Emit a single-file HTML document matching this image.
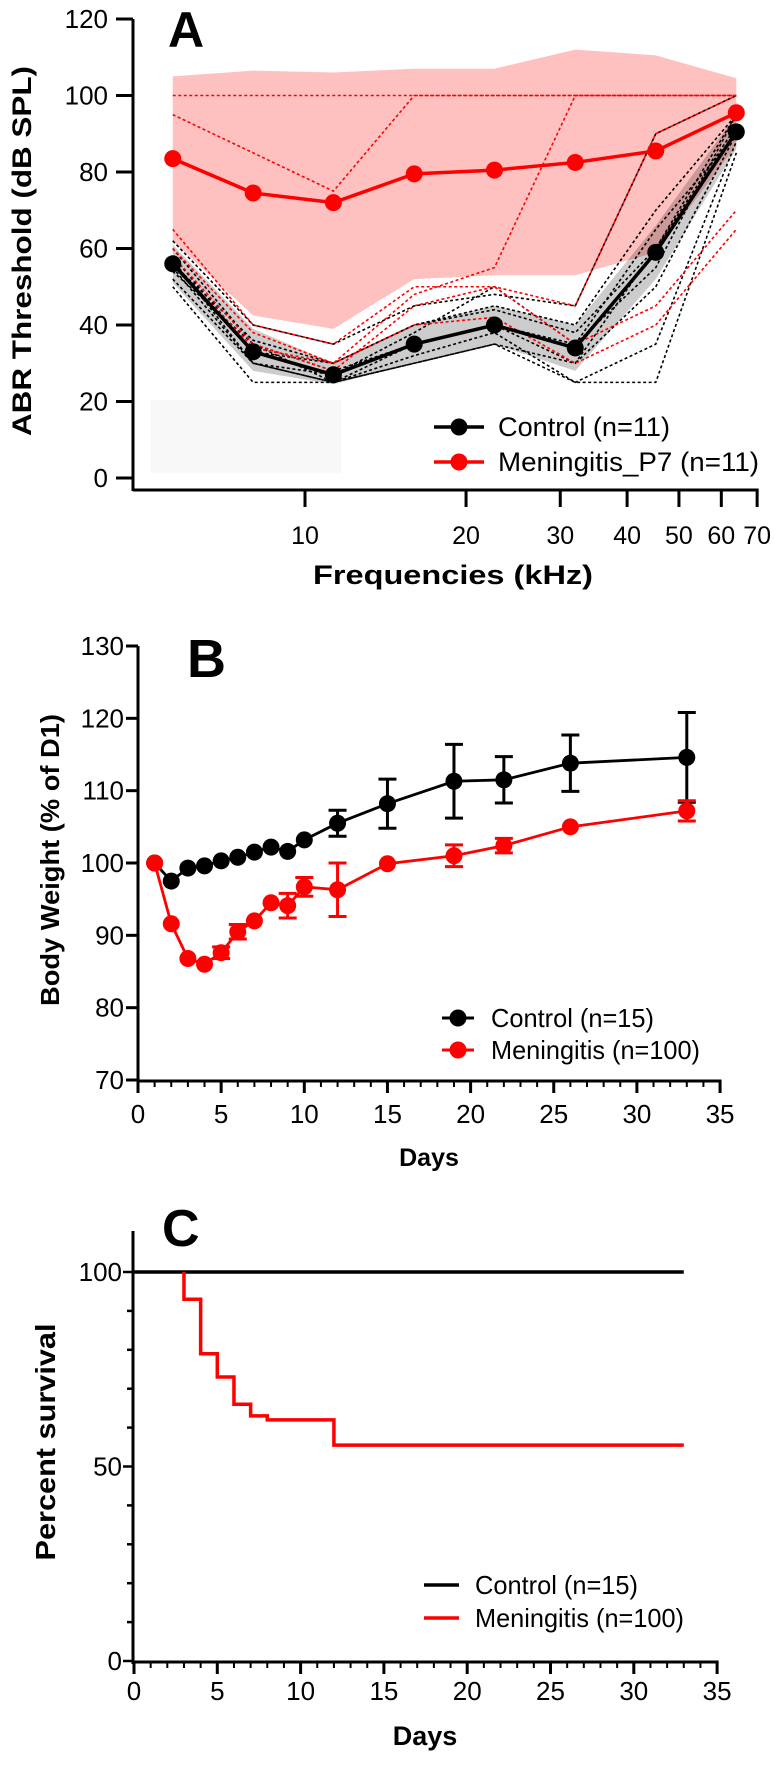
<!DOCTYPE html>
<html><head><meta charset="utf-8"><style>
html,body{margin:0;padding:0;background:#fff;}
svg{display:block;font-family:"Liberation Sans",Arial,sans-serif;}
</style></head><body>
<svg id="fig" width="774" height="1771" viewBox="0 0 774 1771"></svg>
<script>
// ---------- Panel A data ----------
const freqA = [5.66, 8, 11.3, 16, 22.6, 32, 45.25, 64];
const ctrlA = [56, 33, 27, 35, 40, 34, 59, 90.5];
const menA = [83.5, 74.5, 72, 79.5, 80.5, 82.5, 85.5, 95.5];
const menBandHi = [105, 106.5, 106, 107, 107, 112, 110.5, 104.5];
const menBandLo = [62, 42.5, 39, 52, 53, 53, 59, 87];
const ctrlBandHi = [61, 39, 30, 40, 45, 40, 66, 95];
const ctrlBandLo = [51, 28, 24.5, 30, 35, 28, 52, 86];
const menIndiv = [
 [100,100,100,100,100,100,100,100],
 [95,85,75,100,100,100,100,100],
 [65,40,35,50,50,45,90,100],
 [60,38,30,48,55,100,100,100],
 [58,35,28,45,50,35,45,70],
 [56,34,30,40,42,30,40,65]
];
const ctrlIndiv = [
 [60,35,25,30,35,30,60,95],[55,30,25,35,40,35,65,90],[50,25,25,30,35,25,25,85],
 [58,33,30,40,45,40,70,95],[54,35,28,35,40,30,50,90],[57,30,27,38,50,35,55,95],
 [52,30,25,32,38,25,35,88],[62,40,35,45,48,45,90,100],[56,36,30,40,44,38,60,92]
];
const yTicksA = [0,20,40,60,80,100,120];
const xTicksA = [10,20,30,40,50,60,70];
// ---------- Panel B data ----------
const daysCtrlB = [1,2,3,4,5,6,7,8,9,10,12,15,19,22,26,33];
const ctrlB = [100,97.5,99.3,99.6,100.3,100.8,101.5,102.2,101.6,103.2,105.5,108.2,111.3,111.5,113.8,114.6];
const ctrlErrB = [0,0.5,0.5,0.5,0.5,0.5,0.5,0.5,0.5,0.6,1.8,3.4,5.1,3.2,3.9,6.2];
const daysMenB = [1,2,3,4,5,6,7,8,9,10,12,15,19,22,26,33];
const menB = [100,91.6,86.8,86,87.6,90.5,92,94.5,94.1,96.7,96.3,99.9,101,102.4,105,107.2];
const menErrB = [0,0.5,0.5,0.5,0.8,1,0.5,0.6,1.7,1.3,3.7,0.4,1.5,1,0.4,1.4];
const yTicksB = [70,80,90,100,110,120,130];
const xTicksB = [0,5,10,15,20,25,30,35];
// ---------- Panel C data ----------
const ctrlDaysC = [0,33];
const ctrlSurvC = [100,100];
const menDaysC = [3,4,5,6,7,8,12,33];
const menSurvC = [93,79,73,66,63,62,55.5,55.5];
const yTicksC = [0,50,100];

const svg = document.getElementById('fig');
const NS = 'http://www.w3.org/2000/svg';
function mk(tag, attrs, parent){
  const e = document.createElementNS(NS, tag);
  for (const k in attrs) e.setAttribute(k, attrs[k]);
  (parent||svg).appendChild(e);
  return e;
}
function txt(x,y,s,attrs,parent){
  const t = mk('text', Object.assign({x:x,y:y}, attrs||{}), parent);
  t.textContent = s; return t;
}

// ================= Panel A =================
const gA = mk('g',{});


const x10=305, dec=535, axAL=133;
const xA = f => x10 + Math.log10(f/10)*dec;
const yA = v => 478 - v*(478-19)/120;
const axAR = xA(70);
const box = mk('rect',{x:151,y:400,width:190,height:73,fill:'#f8f8f8'},gA);


function bandPath(hi,lo){
  let d='';
  freqA.forEach((f,i)=>{d+=(i?'L':'M')+xA(f)+','+yA(hi[i]);});
  for(let i=freqA.length-1;i>=0;i--) d+='L'+xA(freqA[i])+','+yA(lo[i]);
  return d+'Z';
}
const mb = mk('path',{d:bandPath(menBandHi,menBandLo),fill:'#ffc0c0'},gA);


const cb = mk('path',{d:bandPath(ctrlBandHi,ctrlBandLo),fill:'#000','fill-opacity':0.2},gA);


function linePath(vals){return vals.map((v,i)=>(i?'L':'M')+xA(freqA[i])+','+yA(v)).join('');}
ctrlIndiv.forEach(s=>{
  const p=mk('path',{d:linePath(s),fill:'none',stroke:'#000','stroke-width':1.6,'stroke-dasharray':'3,2.5'},gA);
  
  
});
menIndiv.forEach(s=>{
  const p=mk('path',{d:linePath(s),fill:'none',stroke:'#f00','stroke-width':1.6,'stroke-dasharray':'3,2.5'},gA);
  
  
});
[[ctrlA,'#000','control'],[menA,'#f00','meningitis']].forEach(([vals,col,nm])=>{
  const p=mk('path',{d:linePath(vals),fill:'none',stroke:col,'stroke-width':3.5},gA);
  
  
  vals.forEach((v,i)=>{
    const c=mk('circle',{cx:xA(freqA[i]),cy:yA(v),r:8.5,fill:col},gA);
    
    
  });
});
mk('line',{x1:133,y1:yA(120),x2:133,y2:491,stroke:'#000','stroke-width':3},gA);
yTicksA.forEach(v=>{
  mk('line',{x1:116,y1:yA(v),x2:133,y2:yA(v),stroke:'#000','stroke-width':3},gA);
  const t=txt(108,yA(v)+9,String(v),{'font-size':26,'text-anchor':'end'},gA);
  
  
});
mk('line',{x1:axAL,y1:490,x2:axAR+1.5,y2:490,stroke:'#000','stroke-width':3},gA);
xTicksA.forEach(f=>{
  mk('line',{x1:xA(f),y1:490,x2:xA(f),y2:507,stroke:'#000','stroke-width':3},gA);
  const t=txt(xA(f),544,String(f),{'font-size':25,'text-anchor':'middle'},gA);
  
  
});
let t;
t=txt(453,584,'Frequencies (kHz)',{'font-size':27,'font-weight':'bold','text-anchor':'middle',textLength:280,lengthAdjust:'spacingAndGlyphs'},gA);
 
t=txt(0,0,'ABR Threshold (dB SPL)',{'font-size':27,'font-weight':'bold','text-anchor':'middle',textLength:370,lengthAdjust:'spacingAndGlyphs',transform:'translate(31,251) rotate(-90)'},gA);
 
t=txt(168,47,'A',{'font-size':50,'font-weight':'bold'},gA);
 
[['Control (n=11)','#000',427,172],['Meningitis_P7 (n=11)','#f00',462,261]].forEach(([s,c,y,w])=>{
  mk('line',{x1:434,y1:y,x2:484,y2:y,stroke:c,'stroke-width':3.5},gA);
  mk('circle',{cx:459,cy:y,r:8.5,fill:c},gA);
  const tt=txt(498,y+9,s,{'font-size':27,textLength:w,lengthAdjust:'spacingAndGlyphs'},gA);
   
});

// ================= Panel B =================
const gB = mk('g',{});


const xB = d => 138 + d*16.63;
const yB = v => 1080 - (v-70)*(1080-646)/60;
function series(days,vals,errs,col,nm){
  const d=days.map((x,i)=>(i?'L':'M')+xB(x)+','+yB(vals[i])).join('');
  const p=mk('path',{d:d,fill:'none',stroke:col,'stroke-width':2.8},gB);
  
  
  days.forEach((x,i)=>{
    if(errs[i]>0.6){
      const e=mk('path',{d:'M'+(xB(x)-9)+','+yB(vals[i]+errs[i])+'h18M'+xB(x)+','+yB(vals[i]+errs[i])+'V'+yB(vals[i]-errs[i])+'M'+(xB(x)-9)+','+yB(vals[i]-errs[i])+'h18',stroke:col,'stroke-width':3,fill:'none'},gB);
      
      
    }
    const c=mk('circle',{cx:xB(x),cy:yB(vals[i]),r:8.5,fill:col},gB);
    
    
  });
}
series(daysCtrlB,ctrlB,ctrlErrB,'#000','control');
series(daysMenB,menB,menErrB,'#f00','meningitis');
mk('line',{x1:138,y1:646,x2:138,y2:1082,stroke:'#000','stroke-width':3},gB);
yTicksB.forEach(v=>{
  mk('line',{x1:126,y1:yB(v),x2:138,y2:yB(v),stroke:'#000','stroke-width':3},gB);
  const tt=txt(124,yB(v)+9,String(v),{'font-size':26,'text-anchor':'end'},gB);
   
});
mk('line',{x1:138,y1:1081,x2:xB(35)+1.5,y2:1081,stroke:'#000','stroke-width':3},gB);
for(let d=0;d<=35;d++){
  mk('line',{x1:xB(d),y1:1081,x2:xB(d),y2:d%5?1087:1093,stroke:'#000','stroke-width':d%5?2:3},gB);
}
xTicksB.forEach(d=>{
  const tt=txt(xB(d),1123,String(d),{'font-size':26,'text-anchor':'middle'},gB);
   
});
t=txt(429,1166,'Days',{'font-size':25,'font-weight':'bold','text-anchor':'middle'},gB);
 
t=txt(0,0,'Body Weight (% of D1)',{'font-size':26,'font-weight':'bold','text-anchor':'middle',textLength:292,lengthAdjust:'spacingAndGlyphs',transform:'translate(59,860) rotate(-90)'},gB);
 
t=txt(187,677,'B',{'font-size':54,'font-weight':'bold'},gB);
 
[['Control (n=15)','#000',1018,163],['Meningitis (n=100)','#f00',1050,209]].forEach(([s,c,y,w])=>{
  mk('line',{x1:442,y1:y,x2:474,y2:y,stroke:c,'stroke-width':3},gB);
  mk('circle',{cx:458,cy:y,r:8.5,fill:c},gB);
  const tt=txt(491,y+9,s,{'font-size':26,textLength:w,lengthAdjust:'spacingAndGlyphs'},gB);
   
});

// ================= Panel C =================
const gC = mk('g',{});


const xC = d => 134 + d*16.66;
const yC = v => 1661 - v*(1661-1272)/100;
let dC='M'+xC(ctrlDaysC[0])+','+yC(ctrlSurvC[0])+'L'+xC(ctrlDaysC[1])+','+yC(ctrlSurvC[1]);
let cl=mk('path',{d:dC,stroke:'#000','stroke-width':3.5,fill:'none'},gC);


let dm='M'+xC(menDaysC[0])+','+yC(100);
let prev=100;
menDaysC.forEach((d,i)=>{
  dm+='L'+xC(d)+','+yC(prev)+'L'+xC(d)+','+yC(menSurvC[i]);
  prev=menSurvC[i];
});
let ml=mk('path',{d:dm,stroke:'#f00','stroke-width':3.5,fill:'none'},gC);


mk('line',{x1:133,y1:1231,x2:133,y2:1664,stroke:'#000','stroke-width':3},gC);
for(let v=0;v<=100;v+=10){
  mk('line',{x1:v%50?127:123,y1:yC(v),x2:133,y2:yC(v),stroke:'#000','stroke-width':2.5},gC);
}
yTicksC.forEach(v=>{
  const tt=txt(122,yC(v)+9,String(v),{'font-size':26,'text-anchor':'end'},gC);
   
});
mk('line',{x1:132,y1:1662,x2:xC(35)+1.5,y2:1662,stroke:'#000','stroke-width':3},gC);
for(let d=0;d<=35;d++){
  mk('line',{x1:xC(d),y1:1662,x2:xC(d),y2:d%5?1668:1674,stroke:'#000','stroke-width':d%5?2:3},gC);
}
xTicksB.forEach(d=>{
  const tt=txt(xC(d),1700,String(d),{'font-size':26,'text-anchor':'middle'},gC);
   
});
t=txt(425,1745,'Days',{'font-size':27,'font-weight':'bold','text-anchor':'middle'},gC);
 
t=txt(0,0,'Percent survival',{'font-size':28,'font-weight':'bold','text-anchor':'middle',textLength:237,lengthAdjust:'spacingAndGlyphs',transform:'translate(55,1442) rotate(-90)'},gC);
 
t=txt(162,1246,'C',{'font-size':52,'font-weight':'bold'},gC);
 
[['Control (n=15)','#000',1585,163],['Meningitis (n=100)','#f00',1618,209]].forEach(([s,c,y,w])=>{
  mk('line',{x1:424,y1:y,x2:459,y2:y,stroke:c,'stroke-width':3.5},gC);
  const tt=txt(475,y+9,s,{'font-size':26,textLength:w,lengthAdjust:'spacingAndGlyphs'},gC);
   
});
</script>
</body></html>
